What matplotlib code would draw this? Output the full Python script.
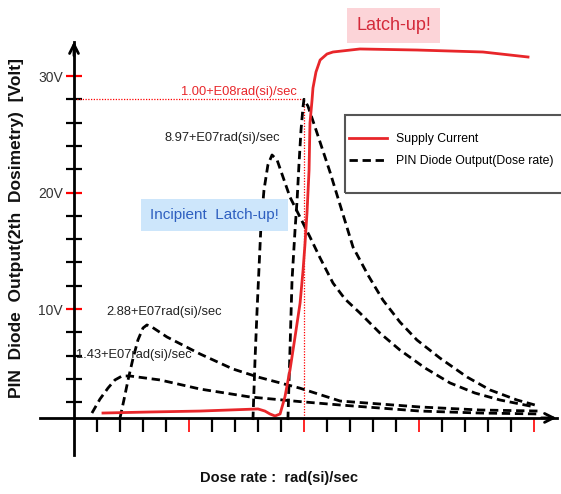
import numpy as np
import matplotlib
matplotlib.use('Agg')
from matplotlib import pyplot as plt
from matplotlib.patches import Rectangle
from matplotlib.ticker import FixedLocator

plt.rcParams['font.family'] = ['Liberation Sans', 'DejaVu Sans']

# dose-rate pulses (x in tick units, y in volt)
pin_143_x = [0.78, 1.13, 1.48, 1.78, 2.09, 2.43, 3.74, 5.48, 7.65, 9.83, 11.57, 15.04, 17.65, 20.26]
pin_143_y = [1.07, 2.27, 3.22, 3.91, 4.25, 4.25, 3.91, 3.13, 2.45, 2.05, 1.76, 1.24, 1.07, 0.99]

pin_288_x = [2.0, 2.17, 2.35, 2.57, 2.78, 3.0, 3.17, 3.39, 4.04, 5.48, 6.91, 8.0, 9.83, 11.57, 15.04, 17.65, 20.26]
pin_288_y = [0.64, 2.19, 3.91, 5.79, 7.34, 8.37, 8.63, 8.45, 7.6, 6.14, 4.85, 4.16, 3.2, 2.1, 1.59, 1.33, 1.24]

pin_897_x = [7.78, 7.87, 7.96, 8.04, 8.13, 8.26, 8.43, 8.61, 8.83, 9.39, 10.26, 10.70, 11.26, 11.78, 12.43,
             13.30, 14.17, 15.26, 16.35, 17.43, 18.52, 20.04]
pin_897_y = [0.47, 5.62, 9.91, 13.35, 17.21, 20.21, 22.36, 23.22, 22.79, 19.61, 16.18, 14.38, 12.23, 10.86, 9.66,
             7.94, 6.48, 4.94, 3.65, 2.79, 2.19, 1.59]

pin_100_x = [9.30, 9.39, 9.48, 9.61, 9.70, 9.78, 9.87, 9.96, 10.0, 10.17, 10.48, 11.13, 12.13, 12.78, 13.43,
             14.17, 14.91, 15.91, 17.09, 18.09, 19.26, 20.04]
pin_100_y = [0.47, 6.48, 12.49, 16.78, 19.36, 22.36, 25.36, 27.4, 28.0, 27.42, 25.62, 21.76, 15.32, 12.92, 10.77,
             8.88, 7.34, 5.79, 4.16, 3.05, 2.19, 1.76]

supply_x = [1.26, 3.30, 5.48, 8.0, 8.30, 8.52, 8.74, 8.96, 9.17, 9.39, 9.61, 9.83, 9.96, 10.04, 10.13, 10.22,
            10.26, 10.35, 10.39, 10.52, 10.70, 11.0, 11.26, 12.43, 14.91, 17.78, 19.74]
supply_y = [1.07, 1.16, 1.24, 1.42, 1.24, 0.99, 0.82, 0.99, 2.45, 4.76, 7.60, 10.52, 13.35, 15.49, 18.24, 21.93,
            25.97, 27.94, 28.97, 30.34, 31.37, 31.89, 32.06, 32.32, 32.23, 32.06, 31.63]

peak_x = 10.0
peak_y = 28.0

ytick_major = [10, 20, 30]
ytick_labels = ['10V', '20V', '30V']
ytick_minor = [2, 4, 6, 8, 12, 14, 16, 18, 22, 24, 26, 28]
xtick_major = [5, 10, 15, 20]
xtick_minor = [i for i in range(1, 20) if i % 5 != 0]

fig = plt.figure(figsize=(5.61, 4.94), dpi=100)
ax = fig.add_axes([0, 0, 1, 1])
ax.set_xlim(-74 / 23, 487 / 23)
ax.set_ylim(-68.5 / 11.65, 425.5 / 11.65)

# axes drawn as arrows through the origin
x_base = 0.65
for s in ['top', 'right']:
    ax.spines[s].set_visible(False)
ax.spines['left'].set_position(('data', 0))
ax.spines['bottom'].set_position(('data', x_base))
ax.spines['left'].set_bounds(-2.55, 32.9)
ax.spines['bottom'].set_bounds(-1.5, 21.0)
ax.spines['left'].set_linewidth(2)
ax.spines['bottom'].set_linewidth(2)
ax.annotate('', xy=(21.1, x_base), xytext=(20.2, x_base),
            arrowprops=dict(arrowstyle='->', lw=2, color='k', mutation_scale=16))
ax.annotate('', xy=(0, 33.2), xytext=(0, 31.5),
            arrowprops=dict(arrowstyle='->', lw=2, color='k', mutation_scale=16))

ax.xaxis.set_major_locator(FixedLocator(xtick_major))
ax.xaxis.set_minor_locator(FixedLocator(xtick_minor))
ax.yaxis.set_major_locator(FixedLocator(ytick_major))
ax.yaxis.set_minor_locator(FixedLocator(ytick_minor))
ax.set_xticklabels([])
ax.set_yticklabels(ytick_labels)
ax.tick_params(axis='x', which='both', direction='out', length=10, width=1.6)
ax.tick_params(axis='x', which='major', color='red', width=1.2)
ax.tick_params(axis='y', which='both', direction='inout', length=12, width=1.6)
ax.tick_params(axis='y', which='major', color='red', labelsize=10, labelcolor='#333333', pad=2)

# red dotted guide to the 1.00E08 peak
ax.plot([0, peak_x], [peak_y, peak_y], color='red', lw=0.9, ls=(0, (1, 1.2)))
ax.plot([peak_x, peak_x], [x_base, peak_y], color='red', lw=0.9, ls=(0, (1, 1.2)))

dash = (0, (3, 1.7))
for xs, ys in [(pin_143_x, pin_143_y), (pin_288_x, pin_288_y), (pin_897_x, pin_897_y), (pin_100_x, pin_100_y)]:
    ax.plot(xs, ys, color='black', lw=2, ls=dash)
ax.plot(supply_x, supply_y, color='#e8262a', lw=2, label='Supply Current')
ax.plot([], [], color='black', lw=2, ls=dash, label='PIN Diode Output(Dose rate)')

ax.text(7.17, 28.6, '1.00+E08rad(si)/sec', color='#e8262a', fontsize=9.3, ha='center', va='center')
ax.text(6.43, 24.7, '8.97+E07rad(si)/sec', color='#222222', fontsize=9.3, ha='center', va='center')
ax.text(3.91, 9.75, '2.88+E07rad(si)/sec', color='#222222', fontsize=9.3, ha='center', va='center')
ax.text(2.61, 6.05, '1.43+E07rad(si)/sec', color='#222222', fontsize=9.3, ha='center', va='center')

ax.text(6.1, 18.05, 'Incipient  Latch-up!', color='#2e5fc0', fontsize=11, ha='center', va='center',
        bbox=dict(boxstyle='square,pad=0.6', fc='#cde6fb', ec='none'))
ax.text(13.89, 34.3, 'Latch-up!', color='#d42a3a', fontsize=13, ha='center', va='center',
        bbox=dict(boxstyle='square,pad=0.5', fc='#fcd4d8', ec='none'))

# legend frame drawn separately so the padding matches the original box
ax.add_patch(Rectangle((345 / 561, 1 - 193 / 494), 222 / 561, 78 / 494, transform=ax.transAxes,
                       fill=False, ec='#555555', lw=1.5, clip_on=False, zorder=4))
ax.legend(loc='upper left', bbox_to_anchor=(349 / 561, 1 - 133 / 494), fontsize=8.8, frameon=False,
          handlelength=3.1, handletextpad=0.75, borderpad=0, labelspacing=0.85, borderaxespad=0)

fig.text(17 / 561, 1 - 228 / 494, 'PIN  Diode  Output(2th  Dosimetry)  [Volt]', rotation=90,
         fontsize=12.5, fontweight='bold', ha='center', va='center', color='#111111')
fig.text(279 / 561, 1 - 478 / 494, 'Dose rate :  rad(si)/sec', fontsize=10.5, fontweight='bold',
         ha='center', va='center', color='#111111')

fig.savefig('out.png', dpi=100)
